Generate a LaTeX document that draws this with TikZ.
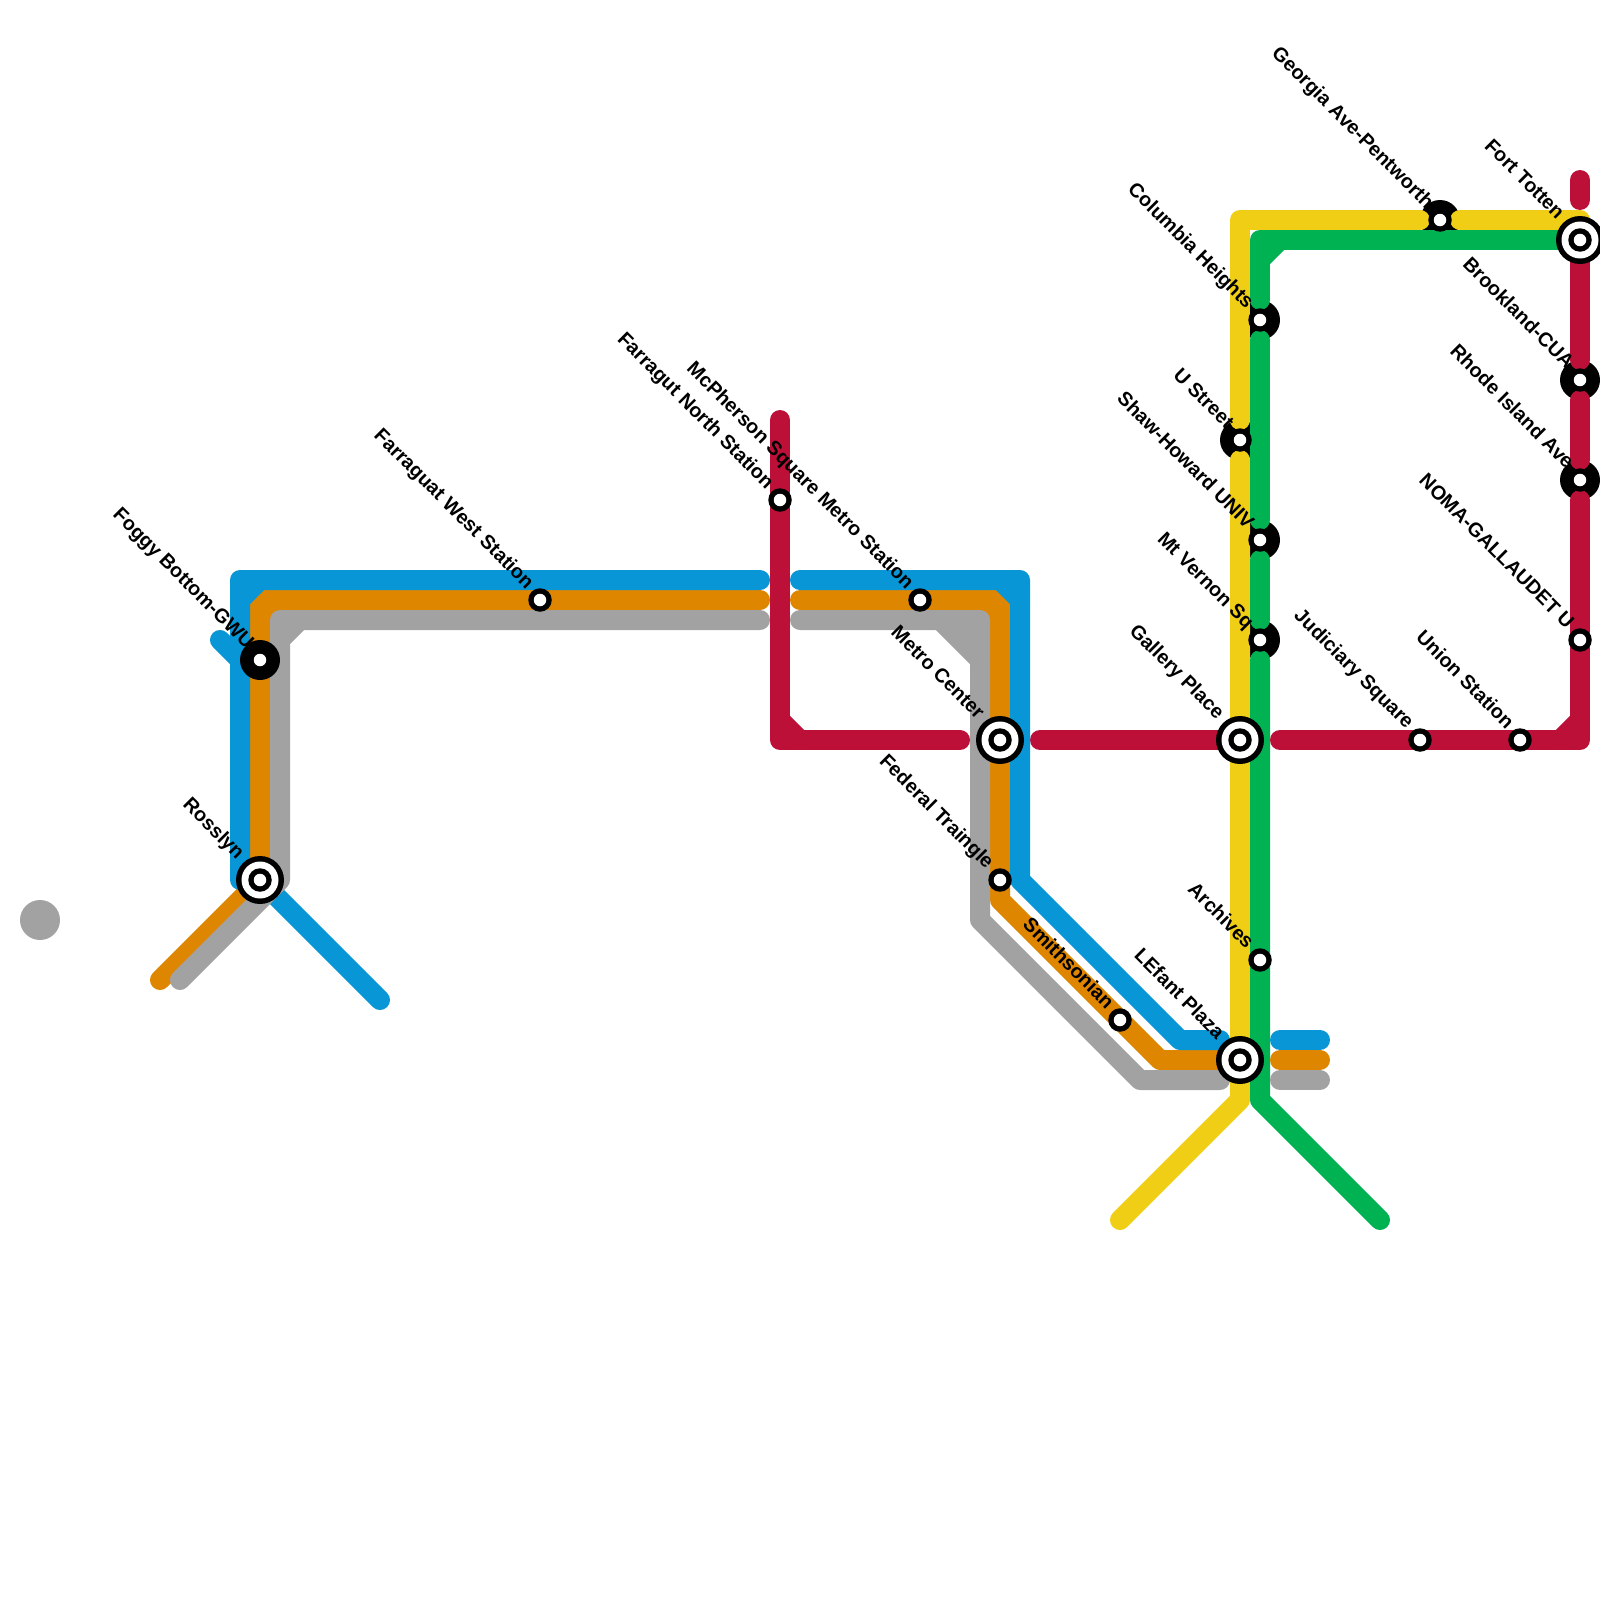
\documentclass[tikz,border=0pt]{standalone}
\usepackage{fontspec}
\setmainfont{Liberation Sans}
\definecolor{mblue}{HTML}{0896D7}
\definecolor{morange}{HTML}{DF8600}
\definecolor{mgray}{HTML}{A2A2A2}
\definecolor{mred}{HTML}{BD1038}
\definecolor{myellow}{HTML}{F0CE15}
\definecolor{mgreen}{HTML}{00B251}
\tikzset{
  mline/.style={line width=20pt,line cap=round,line join=round},
  ydisc/.style={circle,fill=black,inner sep=0pt,minimum size=40pt},
  ringo/.style={circle,fill=black,inner sep=0pt,minimum size=23.5pt},
  dotw/.style={circle,fill=white,inner sep=0pt,minimum size=12.5pt},
  bigo/.style={circle,fill=black,inner sep=0pt,minimum size=48pt},
  bigw/.style={circle,fill=white,inner sep=0pt,minimum size=37pt},
  lbl/.style={rotate=-45,anchor=mid east,inner sep=0pt,font=\fontsize{19.8}{20}\selectfont\bfseries,text=black},
}
\newcommand{\plainst}[2]{\node[ringo] at (#2) {}; \node[dotw] (#1) at (#2) {};}
\newcommand{\bigst}[2]{\node[bigo] at (#2) {}; \node[bigw] at (#2) {}; \node[ringo] at (#2) {}; \node[dotw] (#1) at (#2) {};}
\newcommand{\lab}[3]{\node[lbl] (t#1) at ([shift={(-#2,-#2)}]#1) {#3};}
\begin{document}
\begin{tikzpicture}[x=1pt,y=-1pt]
\useasboundingbox (0,0) rectangle (1600,1600);
% grey dot
\node[circle,fill=mgray,inner sep=0pt,minimum size=40pt] (greydot) at (40,920) {};
% interchange discs below the lines
\node[ydisc] (dgeorgia) at (1440,220) {};
\node[ydisc] (dcolumbia) at (1260,320) {};
\node[ydisc] (dustreet) at (1240,440) {};
\node[ydisc] (dshaw) at (1260,540) {};
\node[ydisc] (dvernon) at (1260,640) {};
\node[ydisc] (dbrookland) at (1580,380) {};
\node[ydisc] (drhode) at (1580,480) {};
% yellow
\draw[mline,myellow] (1420,220) -- (1240,220) -- (1240,420);
\draw[mline,myellow] (1460,220) -- (1580,220);
\draw[mline,myellow] (1240,460) -- (1240,1100) -- (1120,1220);
% green
\draw[mline,mgreen] (1260,300) -- (1260,240) -- (1580,240);
\draw[mline,mgreen] (1260,260) -- (1280,240);
\draw[mline,mgreen] (1260,340) -- (1260,520);
\draw[mline,mgreen] (1260,560) -- (1260,620);
\draw[mline,mgreen] (1260,660) -- (1260,1100) -- (1380,1220);
% red
\draw[mline,mred] (780,420) -- (780,740) -- (960,740);
\draw[mline,mred] (780,720) -- (800,740);
\draw[mline,mred] (1040,740) -- (1230,740);
\draw[mline,mred] (1280,740) -- (1580,740) -- (1580,500);
\draw[mline,mred] (1560,740) -- (1580,720);
\draw[mline,mred] (1580,400) -- (1580,460);
\draw[mline,mred] (1580,240) -- (1580,360);
\draw[mline,mred] (1580,180) -- (1580,200);
% orange
\draw[mline,morange] (160,980) -- (260,880) -- (260,600) -- (760,600);
\draw[mline,morange] (260,620) -- (280,600);
\draw[mline,morange] (800,600) -- (1000,600) -- (1000,900) -- (1160,1060) -- (1220,1060);
\draw[mline,morange] (980,600) -- (1000,620);
\draw[mline,morange] (1280,1060) -- (1320,1060);
% blue
\draw[mline,mblue] (380,1000) -- (260,880) -- (240,880) -- (240,580) -- (760,580);
\draw[mline,mblue] (240,600) -- (260,580);
\draw[mline,mblue] (220,640) -- (240,660);
\draw[mline,mblue] (800,580) -- (1020,580) -- (1020,880) -- (1180,1040) -- (1220,1040);
\draw[mline,mblue] (1000,580) -- (1020,600);
\draw[mline,mblue] (1280,1040) -- (1320,1040);
% gray
\draw[mline,mgray] (180,980) -- (280,880) -- (280,620) -- (760,620);
\draw[mline,mgray] (280,640) -- (300,620);
\draw[mline,mgray] (800,620) -- (980,620) -- (980,920) -- (1140,1080) -- (1220,1080);
\draw[mline,mgray] (940,620) -- (980,660);
\draw[mline,mgray] (960,620) -- (980,640);
\draw[mline,mgray] (1280,1080) -- (1320,1080);
% stations
\node[ydisc] (dfoggy) at (260,660) {};
\node[dotw] (foggy) at (260,660) {};
\plainst{farwest}{540,600}
\plainst{farnorth}{780,500}
\plainst{mcpherson}{920,600}
\plainst{federal}{1000,880}
\plainst{smithsonian}{1120,1020}
\plainst{archives}{1260,960}
\plainst{judiciary}{1420,740}
\plainst{union}{1520,740}
\plainst{noma}{1580,640}
\plainst{georgia}{1440,220}
\plainst{columbia}{1260,320}
\plainst{ustreet}{1240,440}
\plainst{shaw}{1260,540}
\plainst{vernon}{1260,640}
\plainst{brookland}{1580,380}
\plainst{rhode}{1580,480}
\bigst{rosslyn}{260,880}
\bigst{metrocenter}{1000,740}
\bigst{gallery}{1240,740}
\bigst{lenfant}{1240,1060}
\bigst{forttotten}{1580,240}
% labels
\lab{foggy}{12}{Foggy Bottom-GWU}
\lab{rosslyn}{21.5}{Rosslyn}
\lab{farwest}{12}{Farraguat West Station}
\lab{farnorth}{12}{Farragut North Station}
\lab{mcpherson}{12}{McPherson Square Metro Station}
\lab{metrocenter}{21.5}{Metro Center}
\lab{federal}{12}{Federal Traingle}
\lab{smithsonian}{12}{Smithsonian}
\lab{lenfant}{21.5}{LEfant Plaza}
\lab{gallery}{21.5}{Gallery Place}
\lab{archives}{12}{Archives}
\lab{vernon}{12}{Mt Vernon Sq}
\lab{shaw}{12}{Shaw-Howard UNIV}
\lab{ustreet}{12}{U Street}
\lab{columbia}{12}{Columbia Heights}
\lab{georgia}{12}{Georgia Ave-Pentworth}
\lab{forttotten}{21.5}{Fort Totten}
\lab{brookland}{12}{Brookland-CUA}
\lab{rhode}{12}{Rhode Island Ave}
\lab{noma}{12}{NOMA-GALLAUDET U}
\lab{union}{12}{Union Station}
\lab{judiciary}{12}{Judiciary Square}
\end{tikzpicture}
\end{document}
